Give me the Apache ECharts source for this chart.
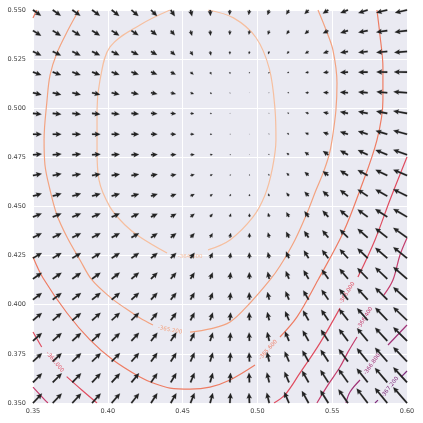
<!DOCTYPE html>
<html><head><meta charset="utf-8">
<script src="https://cdn.jsdelivr.net/npm/echarts@6/dist/echarts.min.js"></script>
<style>html,body{margin:0;padding:0;background:#fff}#c{width:423px;height:423px}</style>
</head><body><div id="c"></div>
<script>
// ---- grid of arrow tails ----
const X_GRID = [0.35,0.3632,0.3763,0.3895,0.4026,0.4158,0.4289,0.4421,0.4553,0.4684,0.4816,0.4947,0.5079,0.5211,0.5342,0.5474,0.5605,0.5737,0.5868,0.60];
const Y_GRID = [0.35,0.3605,0.3711,0.3816,0.3921,0.4026,0.4132,0.4237,0.4342,0.4447,0.4553,0.4658,0.4763,0.4868,0.4974,0.5079,0.5184,0.5289,0.5395,0.55];
// ---- arrow components, one row per Y_GRID entry (bottom to top) ----
const U_ROWS = [
[9.0,9.0,8.8,8.6,8.3,7.6,6.3,5.6,4.0,2.7,0.7,-0.5,-2.5,-4.7,-6.7,-8.0,-9.5,-11.0,-12.3,-13.7],
[9.0,9.0,8.8,8.6,8.3,7.6,6.3,5.6,4.0,2.7,0.7,-0.5,-2.4,-4.5,-6.5,-7.9,-9.4,-10.9,-12.3,-13.7],
[9.0,8.9,8.8,8.6,8.3,7.6,6.3,5.6,4.0,2.7,0.7,-0.4,-2.3,-4.3,-6.2,-7.7,-9.2,-10.8,-12.2,-13.7],
[8.9,8.9,8.7,8.5,8.2,7.6,6.4,5.6,4.0,2.7,0.7,-0.4,-2.1,-4.0,-5.9,-7.4,-9.0,-10.6,-12.1,-13.7],
[8.9,8.8,8.7,8.5,8.2,7.6,6.4,5.6,4.0,2.7,0.8,-0.3,-2.0,-3.8,-5.6,-7.1,-8.8,-10.5,-12.0,-13.7],
[8.8,8.8,8.7,8.5,8.2,7.6,6.4,5.6,4.0,2.6,0.8,-0.3,-1.8,-3.5,-5.3,-6.8,-8.6,-10.4,-12.0,-13.7],
[8.8,8.8,8.6,8.4,8.1,7.6,6.5,5.5,4.0,2.6,0.8,-0.2,-1.6,-3.2,-5.0,-6.6,-8.4,-10.3,-12.0,-13.7],
[8.8,8.7,8.6,8.4,8.1,7.6,6.5,5.5,4.0,2.6,0.9,-0.2,-1.4,-3.0,-4.7,-6.3,-8.2,-10.2,-12.0,-13.7],
[8.7,8.7,8.6,8.4,8.1,7.6,6.5,5.5,4.0,2.5,0.9,-0.1,-1.3,-2.8,-4.4,-6.0,-8.1,-10.1,-12.0,-13.7],
[8.7,8.7,8.6,8.4,8.1,7.6,6.5,5.5,4.0,2.5,1.0,-0.1,-1.2,-2.6,-4.1,-5.8,-8.0,-10.0,-12.0,-13.7],
[8.7,8.7,8.6,8.4,8.1,7.6,6.5,5.5,4.0,2.5,1.0,0.0,-1.0,-2.5,-4.0,-5.6,-7.9,-10.0,-11.8,-13.7],
[8.7,8.7,8.6,8.4,8.1,7.6,6.5,5.5,4.0,2.5,1.0,0.0,-0.9,-2.4,-3.9,-5.5,-7.8,-10.0,-11.7,-13.7],
[8.7,8.7,8.6,8.4,8.0,7.6,6.5,5.5,4.0,2.5,1.0,0.0,-0.8,-2.3,-3.8,-5.4,-7.8,-9.8,-11.7,-13.7],
[8.6,8.6,8.5,8.3,8.0,7.5,6.4,5.3,3.7,2.0,0.7,0.0,-0.7,-2.0,-3.4,-5.2,-7.8,-9.6,-11.5,-13.7],
[8.5,8.5,8.4,8.2,7.9,7.4,6.3,5.2,3.5,1.8,0.5,0.0,-0.6,-1.7,-3.2,-5.1,-7.8,-9.4,-11.0,-13.7],
[8.4,8.4,8.3,8.1,7.8,7.3,6.3,5.0,3.3,1.7,0.4,-0.1,-0.6,-1.6,-3.2,-5.1,-7.8,-9.3,-10.7,-13.5],
[8.3,8.3,8.2,8.0,7.7,7.2,6.1,4.9,3.0,1.3,0.2,-0.2,-0.8,-1.8,-3.2,-5.1,-7.7,-9.3,-10.8,-13.0],
[8.2,8.2,8.1,7.9,7.6,7.1,6.0,4.5,2.5,0.8,0.0,-0.5,-1.1,-2.1,-3.5,-5.2,-7.6,-9.3,-10.9,-12.7],
[8.1,8.1,8.0,7.8,7.5,7.0,5.8,4.0,1.5,0.4,-0.1,-0.6,-1.3,-2.4,-3.8,-5.4,-7.5,-9.3,-11.0,-12.3],
[8.0,8.0,8.0,7.8,7.5,7.0,6.0,4.0,1.5,0.3,-0.3,-0.8,-1.7,-2.7,-4.0,-5.5,-7.5,-9.3,-11.0,-12.0]
];
const V_ROWS = [
[9.5,9.5,9.5,9.5,9.5,9.6,9.7,9.7,10.0,10.0,10.0,10.0,10.3,11.0,12.0,12.8,13.6,14.4,15.0,15.7],
[9.0,9.0,9.0,9.0,9.0,9.1,9.2,9.3,9.5,9.5,9.5,9.6,9.9,10.5,11.5,12.3,13.1,13.8,14.4,15.0],
[8.4,8.4,8.4,8.4,8.5,8.6,8.7,8.8,9.0,9.0,9.0,9.1,9.4,10.0,11.0,11.7,12.5,13.2,13.8,14.4],
[7.9,7.9,7.9,7.9,8.0,8.1,8.2,8.3,8.4,8.4,8.4,8.5,8.8,9.5,10.4,11.1,11.9,12.6,13.2,13.7],
[7.3,7.3,7.3,7.4,7.5,7.6,7.7,7.7,7.8,7.8,7.8,7.9,8.2,8.9,9.8,10.5,11.3,12.0,12.6,13.0],
[6.7,6.7,6.7,6.8,6.9,7.0,7.0,7.0,7.1,7.1,7.2,7.3,7.6,8.3,9.2,9.9,10.7,11.4,12.0,12.4],
[6.0,6.0,6.0,6.1,6.2,6.2,6.2,6.3,6.3,6.4,6.5,6.6,7.0,7.7,8.6,9.3,10.0,10.7,11.3,11.8],
[5.2,5.2,5.2,5.3,5.3,5.3,5.3,5.3,5.4,5.5,5.5,5.7,6.0,6.7,7.7,8.3,9.0,9.8,10.4,11.0],
[4.3,4.3,4.3,4.3,4.3,4.3,4.3,4.3,4.4,4.4,4.5,4.6,5.0,5.7,6.5,7.3,8.0,8.7,9.3,9.7],
[3.4,3.4,3.4,3.4,3.3,3.3,3.2,3.2,3.2,3.2,3.3,3.4,3.9,4.7,5.6,6.3,7.0,7.5,7.8,8.0],
[2.5,2.5,2.5,2.4,2.3,2.2,2.1,2.0,2.0,2.0,2.0,2.1,2.5,3.4,4.4,5.2,6.0,6.5,6.7,6.8],
[1.6,1.6,1.5,1.4,1.3,1.2,1.1,1.0,1.0,1.0,1.0,1.1,1.5,2.4,3.4,4.3,5.0,5.4,5.6,5.7],
[0.7,0.7,0.7,0.6,0.5,0.4,0.4,0.3,0.3,0.3,0.3,0.4,0.8,1.8,2.8,3.7,4.3,4.7,4.9,5.0],
[0.0,0.0,0.0,0.0,0.0,0.0,0.0,0.0,0.0,0.0,0.2,0.3,0.5,1.0,1.5,2.0,2.5,3.0,3.4,3.7],
[-1.0,-1.0,-1.0,-0.9,-0.8,-0.7,-0.5,-0.5,-0.3,-0.3,0.0,0.0,0.2,0.5,0.8,1.1,1.5,1.8,2.1,2.4],
[-2.0,-2.0,-2.0,-1.9,-1.7,-1.5,-1.3,-1.3,-1.3,-1.3,-0.7,-0.2,-0.2,0.0,0.1,0.3,0.5,0.7,0.9,1.0],
[-3.0,-3.0,-3.0,-2.9,-2.7,-2.5,-2.3,-2.5,-2.5,-2.5,-2.0,-1.3,-1.3,-1.0,-0.7,-0.6,-0.3,-0.1,0.1,0.2],
[-4.0,-4.0,-4.0,-3.9,-3.8,-3.6,-3.5,-3.7,-4.0,-4.0,-3.0,-2.7,-2.7,-2.3,-2.0,-1.7,-1.3,-1.0,-1.0,-1.0],
[-5.0,-5.0,-5.0,-4.9,-4.8,-4.6,-4.5,-4.7,-5.0,-5.0,-4.3,-4.0,-4.0,-3.7,-3.3,-2.7,-2.3,-1.8,-1.5,-1.5],
[-5.7,-5.7,-5.7,-5.8,-5.9,-6.0,-6.0,-6.2,-6.3,-6.0,-5.0,-5.0,-5.0,-4.5,-4.0,-3.5,-3.0,-3.0,-2.7,-2.7]
];
// ---- contour levels and traced contour paths (data coordinates) ----
const LEVELS = [-364.8, -365.2, -365.6, -366.0, -366.4, -366.8, -367.2];
const C1 = [
 [[0.4416,0.55],[0.4215,0.5424],[0.4015,0.5312],[0.3948,0.5144],[0.3928,0.4991],[0.3928,0.4788],[0.3941,0.4635],[0.4015,0.4497],[0.4115,0.4406],[0.4215,0.4345],[0.4396,0.4263]],
 [[0.4670,0.4279],[0.4817,0.4330],[0.4971,0.4447],[0.5051,0.4559],[0.5098,0.4686],[0.5124,0.4838],[0.5118,0.4991],[0.5080,0.5200],[0.4990,0.5360],[0.4840,0.5460],[0.4670,0.55]]
];
const C2 = [
 [[0.3807,0.55],[0.3734,0.5398],[0.3660,0.5281],[0.3614,0.5169],[0.3594,0.5042],[0.3574,0.4838],[0.3580,0.4711],[0.3614,0.4584],[0.3660,0.4457],[0.3727,0.4345],[0.3814,0.4228],[0.3894,0.4126],[0.4015,0.4039],[0.4115,0.3983],[0.4215,0.3933],[0.4302,0.3897]],
 [[0.4550,0.3861],[0.4683,0.3877],[0.4817,0.3912],[0.4951,0.4009],[0.5084,0.4126],[0.5151,0.4197],[0.5251,0.4330],[0.5332,0.4467],[0.5392,0.4584],[0.5439,0.4670],[0.5479,0.4762],[0.5499,0.4838],[0.5525,0.4991],[0.5532,0.5128],[0.5505,0.5296],[0.5459,0.5398],[0.5405,0.55]]
];
const C3 = [
 [[0.35,0.5459],[0.3525,0.55]],
 [[0.35,0.4243],[0.3567,0.4136],[0.3727,0.3958],[0.3881,0.3821],[0.4035,0.3719],[0.4215,0.3632],[0.4302,0.3602],[0.4416,0.3576],[0.4550,0.3571],[0.4683,0.3581],[0.4817,0.3617],[0.4984,0.3693]],
 [[0.5151,0.3836],[0.5265,0.3938],[0.5405,0.4126],[0.5572,0.4365],[0.5686,0.4584],[0.5799,0.4838],[0.5839,0.5042],[0.5839,0.5210],[0.5819,0.5373],[0.5799,0.55]]
];
const C4 = [
 [[0.35,0.3861],[0.3558,0.3785]],
 [[0.3725,0.3634],[0.3826,0.3566],[0.3928,0.35]],
 [[0.60,0.4752],[0.5886,0.4533],[0.5786,0.4330],[0.5672,0.4141]],
 [[0.5552,0.3983],[0.5418,0.3805],[0.5285,0.3653],[0.5184,0.3541],[0.5111,0.35]]
];
const C5 = [
 [[0.35,0.3581],[0.3580,0.3515],[0.3600,0.35]],
 [[0.60,0.4340],[0.5953,0.4253],[0.5906,0.4126],[0.5846,0.4050]],
 [[0.5666,0.3836],[0.5606,0.3760],[0.5552,0.3683],[0.5472,0.3592],[0.5398,0.35]]
];
const C6 = [
 [[0.60,0.3897],[0.5873,0.3795]],
 [[0.5686,0.3617],[0.5619,0.3556],[0.5592,0.35]]
];
const C7 = [
 [[0.60,0.3663],[0.5960,0.3632]],
 [[0.5806,0.3515],[0.5786,0.35]]
];
const CONTOURS = [C1, C2, C3, C4, C5, C6, C7];
// inline contour labels: [x, y, angle (deg), level index]
const CLABELS = [
 [0.4550,0.4243,0,0],
 [0.4416,0.3872,-11,1],
 [0.5071,0.3770,48,2],
 [0.3647,0.3709,-50,3],
 [0.5599,0.4060,58,3],
 [0.5719,0.3933,58,4],
 [0.5766,0.3698,55,5],
 [0.5886,0.3581,52,6]
];
const COLORS = ['#f6bf9f','#f3a381','#ee7c63','#e04d60','#c43d6c','#a03377','#7e2c7b'];

const chart = echarts.init(document.getElementById('c'), null, {renderer:'canvas'});
const FONT = '"DejaVu Sans", sans-serif';
const arrowData = [];
for (let j = 0; j < Y_GRID.length; j++) {
  for (let i = 0; i < X_GRID.length; i++) {
    arrowData.push([X_GRID[i], Y_GRID[j], U_ROWS[j][i], V_ROWS[j][i]]);
  }
}
const ARROW_SCALE = 1.0;
function renderArrow(params, api) {
  const p = api.coord([api.value(0), api.value(1)]);
  const dx = api.value(2) * ARROW_SCALE, dy = -api.value(3) * ARROW_SCALE;
  const L = Math.hypot(dx, dy);
  if (L < 0.05) return null;
  const ux = dx / L, uy = dy / L, nx = -uy, ny = ux;
  let hw = 0.8, hh = 2.5, hl = 5.4;
  const k = Math.min(1, L / (hl * 1.25));
  hw *= k; hh *= k; hl *= k;
  const loc = [[0,-hw],[L-0.88*hl,-hw],[L-hl,-hh],[L,0],[L-hl,hh],[L-0.88*hl,hw],[0,hw]];
  const pts = loc.map(([t,n]) => [p[0] + t*ux + n*nx, p[1] + t*uy + n*ny]);
  return {type:'polygon', shape:{points:pts}, style:{fill:'#222222', stroke:'#222222', lineWidth:0.2}};
}
function renderLabel(params, api) {
  const p = api.coord([api.value(0), api.value(1)]);
  const idx = api.value(3);
  return {type:'text', x:p[0], y:p[1], rotation: api.value(2) * Math.PI / 180,
    style:{text: LEVELS[idx].toFixed(3), fill: COLORS[idx], fontSize:5.5, fontFamily:FONT,
      align:'center', verticalAlign:'middle'}};
}
const series = [];
CONTOURS.forEach((segs, k) => {
  segs.forEach(seg => {
    series.push({type:'line', data:seg, smooth:0.35, symbol:'none', showSymbol:false, silent:true,
      clip:true, z:2, animation:false, lineStyle:{color:COLORS[k], width:1.2}});
  });
});
series.push({type:'custom', data:CLABELS, renderItem:renderLabel, encode:{x:0,y:1}, z:3, silent:true, animation:false, clip:false});
series.push({type:'custom', data:arrowData, renderItem:renderArrow, encode:{x:0,y:1}, z:4, silent:true, animation:false, clip:false});

chart.setOption({
  animation:false,
  backgroundColor:'#ffffff',
  grid:{left:33, right:16, top:10, bottom:20, show:true, backgroundColor:'#EAEAF2', borderWidth:0, outerBoundsMode:'none', containLabel:false},
  xAxis:{type:'value', min:0.35, max:0.60, interval:0.05,
    axisLine:{show:false}, axisTick:{show:false},
    splitLine:{show:true, lineStyle:{color:'#ffffff', width:1}},
    axisLabel:{formatter:v => v.toFixed(2), fontSize:6.5, color:'#444', fontFamily:FONT, margin:5}},
  yAxis:{type:'value', min:0.35, max:0.55, interval:0.025,
    axisLine:{show:false}, axisTick:{show:false},
    splitLine:{show:true, lineStyle:{color:'#ffffff', width:1}},
    axisLabel:{formatter:v => v.toFixed(3), fontSize:6.5, color:'#444', fontFamily:FONT, margin:7}},
  series
});
</script></body></html>
